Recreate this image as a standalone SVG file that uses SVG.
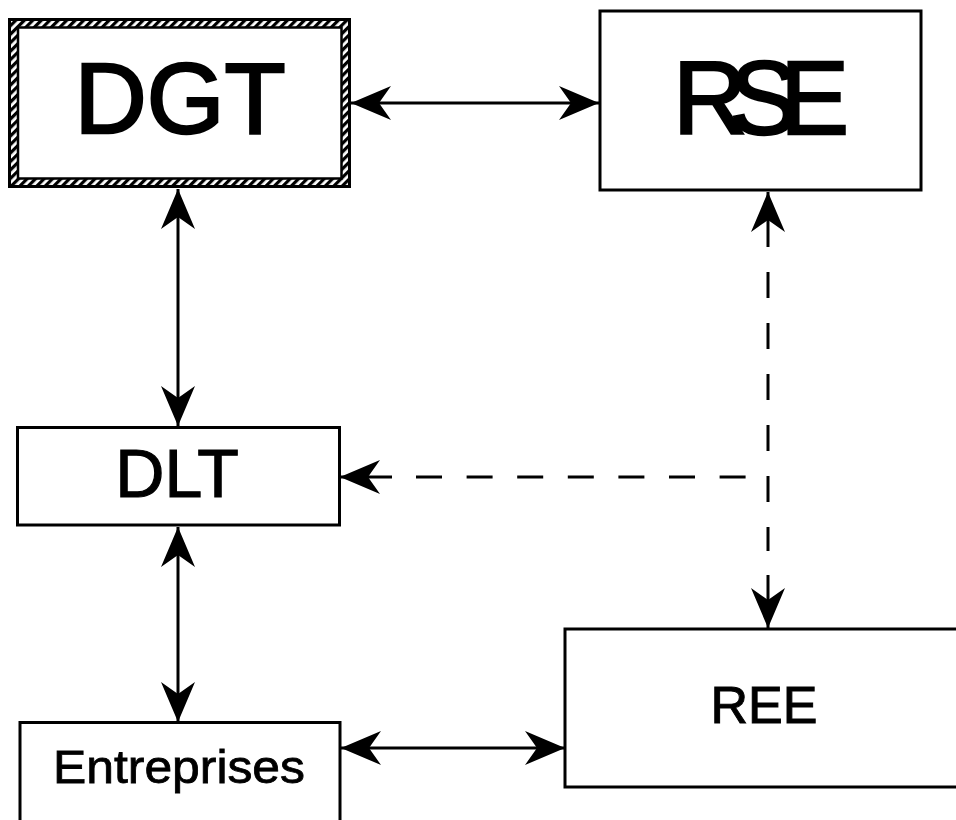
<svg xmlns="http://www.w3.org/2000/svg" width="956" height="820" viewBox="0 0 956 820">
<style>
.box{fill:#fff;stroke:#000;stroke-width:3}
.lbl{font-family:"Liberation Sans",Arial,Helvetica,sans-serif;fill:#000;stroke:#000;text-anchor:middle}
.ln{stroke:#000;stroke-width:3;fill:none}
.dash{stroke:#000;stroke-width:3;fill:none}
</style>
<defs>
<marker id="ah" viewBox="-42 -18 44 36" markerWidth="44" markerHeight="36" refX="0" refY="0" markerUnits="userSpaceOnUse" orient="auto-start-reverse">
<path d="M0,0 L-40,-17 L-28,0 L-40,17 Z" fill="#000"/>
</marker>
<pattern id="hatch" width="6" height="6" patternUnits="userSpaceOnUse" patternTransform="rotate(45)">
<rect width="6" height="6" fill="#fff"/>
<rect width="3.2" height="6" fill="#000"/>
</pattern>
</defs>
<rect width="956" height="820" fill="#fff"/>
<g id="connectors">
<line class="ln" x1="351" y1="103" x2="599" y2="103" marker-start="url(#ah)" marker-end="url(#ah)"/>
<line class="ln" x1="178" y1="189" x2="178" y2="426" marker-start="url(#ah)" marker-end="url(#ah)"/>
<line class="ln" x1="178" y1="527" x2="178" y2="722" marker-start="url(#ah)" marker-end="url(#ah)"/>
<line class="ln" x1="341" y1="748" x2="565" y2="748" marker-start="url(#ah)" marker-end="url(#ah)"/>
<line class="ln" x1="768" y1="192" x2="768" y2="247" marker-start="url(#ah)"/>
<line class="dash" x1="768" y1="272" x2="768" y2="551" stroke-dasharray="26 25"/>
<line class="ln" x1="768" y1="575" x2="768" y2="628" marker-end="url(#ah)"/>
<line class="ln" x1="340" y1="477" x2="392" y2="477" marker-start="url(#ah)"/>
<line class="dash" x1="416" y1="477" x2="746" y2="477" stroke-dasharray="26 24.6"/>
</g>
<g id="DGT">
<path d="M8,18 H351 V188 H8 Z M18,27 V179 H342 V27 Z" fill="url(#hatch)" fill-rule="evenodd"/>
<rect x="9.5" y="19.5" width="340" height="167" fill="none" stroke="#000" stroke-width="3"/>
<rect x="18" y="27.5" width="323.5" height="151" fill="#fff" stroke="#000" stroke-width="2.5"/>
<text class="lbl" x="180" y="133" font-size="100" stroke-width="2.5">DGT</text>
</g>
<g id="RSE">
<rect class="box" x="600" y="11" width="321" height="179"/>
<text class="lbl" x="761" y="134" font-size="103" stroke-width="2.5" textLength="176" lengthAdjust="spacing">RSE</text>
</g>
<g id="DLT">
<rect class="box" x="17.5" y="427.5" width="322" height="97.5"/>
<text class="lbl" x="177" y="497" font-size="68" stroke-width="1.2">DLT</text>
</g>
<g id="Entreprises">
<rect class="box" x="20" y="722.5" width="320" height="110"/>
<text class="lbl" x="179" y="783" font-size="47" stroke-width="0.8" textLength="252" lengthAdjust="spacingAndGlyphs">Entreprises</text>
</g>
<g id="REE">
<rect class="box" x="565" y="629" width="400" height="158"/>
<text class="lbl" x="764" y="723" font-size="52" stroke-width="1">REE</text>
</g>
</svg>
